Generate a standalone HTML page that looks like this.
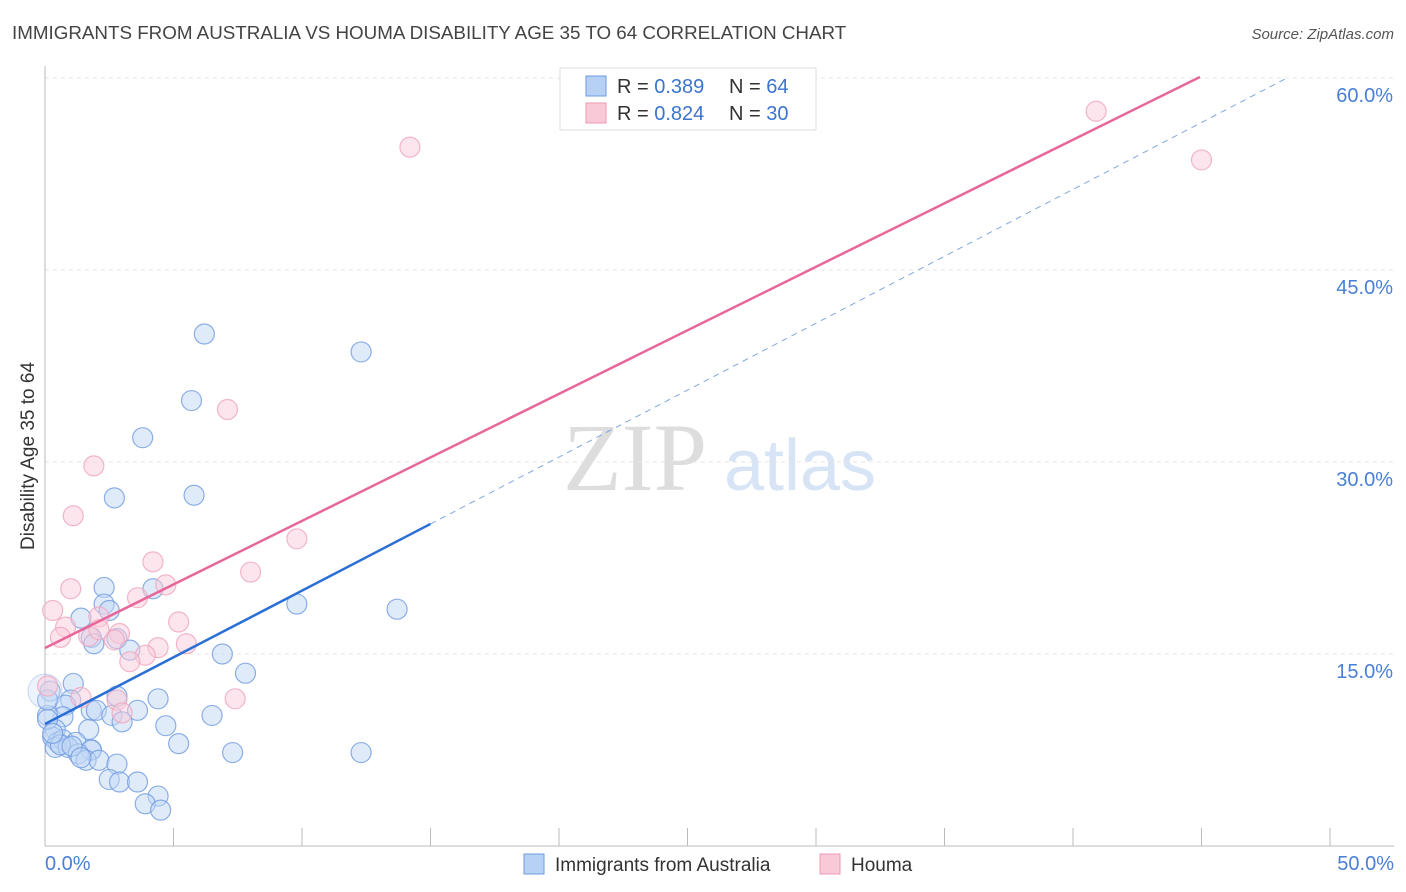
<!DOCTYPE html>
<html><head><meta charset="utf-8">
<style>
body{margin:0;background:#fff;font-family:"Liberation Sans",sans-serif;}
svg{display:block}
</style></head>
<body>
<svg id="chart" width="1406" height="892">
<text x="12" y="39" font-size="18.8" fill="#444">IMMIGRANTS FROM AUSTRALIA VS HOUMA DISABILITY AGE 35 TO 64 CORRELATION CHART</text>
<text x="1394" y="39" font-size="15" fill="#555" font-style="italic" text-anchor="end">Source: ZipAtlas.com</text>
<text x="34" y="456" font-size="19" fill="#333" text-anchor="middle" transform="rotate(-90 34 456)">Disability Age 35 to 64</text>
<g><text x="635" y="490" font-size="96" fill="#ddd" font-family="Liberation Serif" text-anchor="middle">ZIP</text><text x="800" y="490" font-size="72" fill="#d6e4f5" text-anchor="middle">atlas</text></g>
<g id="grid"></g><g id="axes"></g><g id="marks"></g>
<g>
<rect x="560" y="68" width="256" height="62" fill="#fff" stroke="#ddd"/>
<rect x="586" y="76" width="20" height="20" fill="#b7d1f5" stroke="#6f9be0"/>
<rect x="586" y="103" width="20" height="20" fill="#f9c9d7" stroke="#ec9ab3"/>
<text x="617" y="93" font-size="20" fill="#333">R = <tspan fill="#3b74d0">0.389</tspan></text>
<text x="729" y="93" font-size="20" fill="#333">N = <tspan fill="#3b74d0">64</tspan></text>
<text x="617" y="120" font-size="20" fill="#333">R = <tspan fill="#3b74d0">0.824</tspan></text>
<text x="729" y="120" font-size="20" fill="#333">N = <tspan fill="#3b74d0">30</tspan></text>
</g>
<g>
<rect x="524" y="854" width="20" height="20" fill="#b7d1f5" stroke="#6f9be0"/>
<text x="555" y="871" font-size="19" fill="#333">Immigrants from Australia</text>
<rect x="820" y="854" width="20" height="20" fill="#f9c9d7" stroke="#ec9ab3"/>
<text x="851" y="871" font-size="19" fill="#333">Houma</text>
</g>
</svg>
<script>
const yTicks=[15,30,45,60];
const yTickLabels=["15.0%","30.0%","45.0%","60.0%"];
const xTickLabels=["0.0%","50.0%"];
const blueX=[6.2,12.3,5.7,3.8,2.7,5.8,2.3,4.2,2.3,2.5,1.4,1.8,1.9,2.8,3.3,9.8,13.7,6.9,7.8,1.1,2.8,4.4,1.0,0.8,1.8,2.0,3.6,2.6,3.0,4.7,6.5,0.7,0.1,0.4,1.7,0.3,0.5,0.7,1.2,0.4,0.9,1.8,1.8,5.2,7.3,12.3,1.3,1.6,2.1,2.8,2.5,2.9,3.6,4.4,3.9,4.5,0.1,0.2,0.6,1.05,1.4,0.1,0.3,0.0];
const blueY=[40.0,38.6,34.8,31.9,27.2,27.4,20.2,20.1,18.9,18.4,17.8,16.3,15.8,16.2,15.3,18.9,18.5,15.0,13.5,12.7,11.7,11.5,11.4,11.0,10.6,10.6,10.6,10.2,9.7,9.4,10.2,10.1,10.2,9.1,9.1,8.5,8.1,8.3,8.1,7.7,7.7,7.5,7.5,8.0,7.3,7.3,7.2,6.7,6.7,6.4,5.2,5.0,5.0,3.9,3.3,2.8,9.9,12.1,7.9,7.8,6.9,11.4,8.8,12.1];
const pinkX=[14.2,40.9,45.0,7.1,1.9,1.1,9.8,4.2,8.0,4.7,1.0,3.6,0.3,2.1,0.8,5.2,0.6,1.7,2.9,2.7,4.4,3.9,5.5,3.3,7.4,0.1,1.4,2.8,3.0,2.1];
const pinkY=[54.6,57.4,53.6,34.1,29.7,25.8,24.0,22.2,21.4,20.4,20.1,19.4,18.4,17.9,17.1,17.5,16.3,16.4,16.6,16.1,15.5,14.9,15.8,14.4,11.5,12.5,11.6,11.4,10.4,16.9];
const blueTrendX=[0,15,48.4];
const blueTrendY=[9.53,25.16,60.08];
const pinkTrendX=[0,44.94];
const pinkTrendY=[15.47,60.08];
const X=v=>45+v*25.7, Y=v=>846-v*12.8;
const NS="http://www.w3.org/2000/svg";
function mk(t,a,p){const e=document.createElementNS(NS,t);for(const k in a)e.setAttribute(k,a[k]);p.appendChild(e);return e;}
const grid=document.getElementById('grid'),axes=document.getElementById('axes'),marks=document.getElementById('marks');
yTicks.forEach((t,i)=>{
 const l=mk('line',{x1:45,x2:1394,y1:Y(t),y2:Y(t),stroke:'#e4e4e4','stroke-dasharray':'4,4'},grid);
 
 
 const tx=mk('text',{x:1393,y:Y(t)+24,'font-size':20,fill:'#4a7fd6','text-anchor':'end'},axes);
 tx.textContent=yTickLabels[i];
 
 
});
const ya=mk('line',{x1:45,x2:45,y1:66,y2:846,stroke:'#bbb'},axes);


const xa=mk('line',{x1:45,x2:1394,y1:846,y2:846,stroke:'#bbb'},axes);


for(let i=1;i<=10;i++){const t=mk('line',{x1:45+i*128.5,x2:45+i*128.5,y1:828,y2:846,stroke:'#bbb'},axes);
 
 }
[[45,'start',0],[1394,'end',1]].forEach(([x,a,i])=>{const t=mk('text',{x:x,y:870,'font-size':20,fill:'#4a7fd6','text-anchor':a},axes);t.textContent=xTickLabels[i];
 
 });
function dots(xs,ys,f,s,name){xs.forEach((v,i)=>{const big=(v===0);const c=mk('circle',{cx:X(v),cy:Y(ys[i]),r:big?17:10,fill:f,'fill-opacity':big?0.3:0.5,stroke:s,'stroke-opacity':big?0.3:0.8,'stroke-width':1.2},marks);
 
 });}
dots(blueX,blueY,'#c2d8f5','#6f9be0','point-australia');
dots(pinkX,pinkY,'#f9ccd9','#efa5bd','point-houma');
const bt=mk('line',{x1:X(blueTrendX[0]),y1:Y(blueTrendY[0]),x2:X(blueTrendX[1]),y2:Y(blueTrendY[1]),stroke:'#2a6fd6','stroke-width':2.5},marks);


const bd=mk('line',{x1:X(blueTrendX[1]),y1:Y(blueTrendY[1]),x2:X(blueTrendX[2]),y2:Y(blueTrendY[2]),stroke:'#7fa8e0','stroke-width':1,'stroke-dasharray':'6,5'},marks);


const pt=mk('line',{x1:X(pinkTrendX[0]),y1:Y(pinkTrendY[0]),x2:X(pinkTrendX[1]),y2:Y(pinkTrendY[1]),stroke:'#e8679a','stroke-width':2.5},marks);


</script>
</body></html>
